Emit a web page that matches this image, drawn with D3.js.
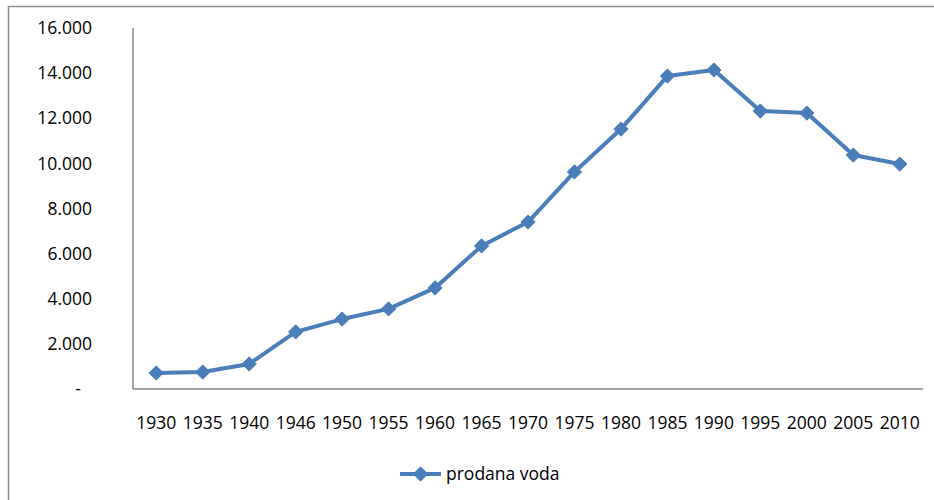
<!DOCTYPE html>
<html>
<head>
<meta charset="utf-8">
<script src="https://cdn.jsdelivr.net/npm/d3@7"></script>
<style>
  body { margin: 0; background: #fff; }
  text { font-family: "Open Sans", sans-serif; font-size: 17.5px; fill: #000; }
</style>
</head>
<body>
<div id="chart"></div>
<script>
var years = ["1930", "1935", "1940", "1946", "1950", "1955", "1960", "1965", "1970",
  "1975", "1980", "1985", "1990", "1995", "2000", "2005", "2010"];
var soldWater = [710, 750, 1110, 2530, 3100, 3550, 4480, 6340, 7400,
  9620, 11520, 13870, 14140, 12320, 12230, 10370, 9970];
var yTicks = [0, 2000, 4000, 6000, 8000, 10000, 12000, 14000, 16000];
var seriesName = "prodana voda";

var svgWidth = 934;
var svgHeight = 500;
var margin = { top: 28, right: 11, bottom: 111, left: 133 };
var width = svgWidth - margin.left - margin.right;
var height = svgHeight - margin.top - margin.bottom;
var blue = "#4a7ebb";

var svg = d3.select("#chart")
  .append("svg")
  .attr("width", svgWidth)
  .attr("height", svgHeight);

// outer chart border (runs off the right and bottom edges)
svg.append("rect")
  .attr("x", 8.5)
  .attr("y", 6.5)
  .attr("width", 940)
  .attr("height", 510)
  .attr("fill", "none")
  .attr("stroke", "#8c8c8c")
  .attr("stroke-width", 1.5);

var chartGroup = svg.append("g")
  .attr("transform", `translate(${margin.left}, ${margin.top})`);

var xScale = d3.scaleBand()
  .domain(years)
  .range([0, width]);

var yScale = d3.scaleLinear()
  .domain([0, 16000])
  .range([height, 0]);

// y labels
var fmt = d3.format(",");
chartGroup.selectAll(".ylab")
  .data(yTicks)
  .enter()
  .append("text")
  .attr("class", "ylab")
  .attr("x", d => d === 0 ? -52 : -41)
  .attr("y", d => yScale(d))
  .attr("dy", "0.35em")
  .attr("text-anchor", "end")
  .text(d => d === 0 ? "-" : fmt(d).replace(/,/g, "."));

// x labels
chartGroup.selectAll(".xlab")
  .data(years)
  .enter()
  .append("text")
  .attr("class", "xlab")
  .attr("x", d => xScale(d) + xScale.bandwidth() / 2)
  .attr("y", height + 40)
  .attr("text-anchor", "middle")
  .text(d => d);

// axes lines
chartGroup.append("line")
  .attr("x1", 0).attr("x2", 0)
  .attr("y1", 0).attr("y2", height)
  .attr("stroke", "#868686")
  .attr("stroke-width", 1.5);

chartGroup.append("line")
  .attr("x1", 0).attr("x2", width)
  .attr("y1", height).attr("y2", height)
  .attr("stroke", "#868686")
  .attr("stroke-width", 1.5);

var line = d3.line()
  .x((d, i) => xScale(years[i]) + xScale.bandwidth() / 2)
  .y(d => yScale(d));

chartGroup.append("path")
  .datum(soldWater)
  .attr("d", line)
  .attr("fill", "none")
  .attr("stroke", blue)
  .attr("stroke-width", 4)
  .attr("stroke-linejoin", "round");

var diamond = d3.symbol().type(d3.symbolDiamond2).size(130);

chartGroup.selectAll(".pt")
  .data(soldWater)
  .enter()
  .append("path")
  .attr("class", "pt")
  .attr("d", diamond)
  .attr("transform", (d, i) => `translate(${xScale(years[i]) + xScale.bandwidth() / 2}, ${yScale(d)})`)
  .attr("fill", blue)
  .attr("stroke", blue)
  .attr("stroke-width", 1);

// legend
var legend = svg.append("g")
  .attr("transform", "translate(400, 474)");

legend.append("line")
  .attr("x1", 0).attr("x2", 41)
  .attr("y1", 0).attr("y2", 0)
  .attr("stroke", blue)
  .attr("stroke-width", 4);

legend.append("path")
  .attr("d", diamond)
  .attr("transform", "translate(20.5, 0)")
  .attr("fill", blue)
  .attr("stroke", blue);

legend.append("text")
  .attr("x", 46)
  .attr("y", 0)
  .attr("dy", "0.35em")
  .text(seriesName);
</script>
</body>
</html>
